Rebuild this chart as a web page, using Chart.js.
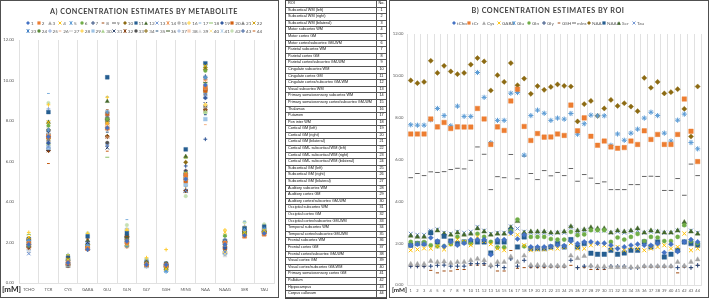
<!DOCTYPE html>
<html>
<head>
<meta charset="utf-8">
<script src="https://cdn.jsdelivr.net/npm/chart.js@4.4.1/dist/chart.umd.min.js"></script>
<style>
  html, body { margin:0; padding:0; background:#fff; }
  body { position:relative; width:709px; height:299px; overflow:hidden; font-family: Lato, "Liberation Sans", sans-serif; }
  .frame { position:absolute; box-sizing:border-box; border:1px solid #505050; }
  canvas { position:absolute; top:0; }
  .title { position:absolute; font-weight:bold; color:#404040; white-space:nowrap; letter-spacing:0.07em; transform:translate(-50%,-50%); font-size:10px; }
  .legend { position:absolute; display:grid; font-size:4.6px; color:#595959; }
  .legend .item { display:flex; align-items:center; white-space:nowrap; height:8px; }
  .legend svg { flex:none; margin-right:1px; }
  .unit { position:absolute; font-weight:bold; color:#262626; white-space:nowrap; }
  #roiTable { position:absolute; left:285px; top:0px; width:102px; box-sizing:border-box; border:1px solid #444;
              display:grid; grid-template-columns:91px 9px; grid-auto-rows:6.6px; font-family:"Liberation Sans", Arial, sans-serif; }
  #roiTable div { box-sizing:border-box; border-bottom:1px solid #555; font-size:3.8px; line-height:5.6px; white-space:nowrap; overflow:hidden; color:#111; }
  #roiTable .n { padding-left:2px; border-right:1px solid #555; }
  #roiTable .c { text-align:center; font-size:3.8px; }
</style>
</head>
<body>
<div class="frame" style="left:0;top:0;width:279px;height:298px;"></div>
<div class="frame" style="left:389px;top:0;width:320px;height:298px;"></div>
<canvas id="chartA" width="279" height="299" style="left:0;"></canvas>
<canvas id="chartB" width="320" height="299" style="left:389px;"></canvas>
<div class="title" id="titleA" style="left:144px;top:11px;">A) CONCENTRATION ESTIMATES BY METABOLITE</div>
<div class="title" id="titleB" style="left:548px;top:10px;">B) CONCENTRATION ESTIMATES BY ROI</div>
<div class="legend" id="legendA" style="left:26px;top:19px;grid-template-columns:repeat(22,10.76px);"></div>
<div class="legend" id="legendB" style="left:452px;top:19px;grid-template-columns:repeat(13,15px);"></div>
<div class="unit" style="left:2px;top:284px;font-size:8px;">[mM]</div>
<div class="unit" style="left:392px;top:286px;font-size:6.3px;">[mM]</div>
<div id="roiTable"></div>
<script>
// ---------------- DATA ----------------
const metabolites = ['tCho','tCr','Cys','GABA','Glu','Gln','Gly','GSH','mIns','NAA','NAAG','Ser','Tau'];
const metaboliteTicks = ['TCHO','TCR','CYS','GABA','GLU','GLN','GLY','GSH','MINS','NAA','NAAG','SER','TAU'];
const roiNumbers = ['1','2','3','4','5','6','7','8','9','10','11','12','13','14','15','16','17','18','19','20','21','22',
                    '23','24','25','26','27','28','29','30','31','32','33','34','35','36','37','38','39','40','41','42','43','44'];
const roiNames = [
  'Subcortical WM (left)','Subcortical WM (right)','Subcortical WM (bilateral)','Motor subcortex WM','Motor cortex GM',
  'Motor cortex/subcortex GM-WM','Parietal subcortex WM','Parietal cortex GM','Parietal cortex/subcortex GM-WM',
  'Cingulate subcortex WM','Cingulate cortex GM','Cingulate cortex/subcortex GM-WM','Visual subcortex WM',
  'Primary somatosensory subcortex WM','Primary somatosensory cortex/subcortex GM-WM','Thalamus','Putamen','Pon inter WM',
  'Cortical GM (left)','Cortical GM (right)','Cortical GM (bilateral)','Cortical GM/- subcortical WM (left)',
  'Cortical GM/- subcortical WM (right)','Cortical GM/- subcortical WM (bilateral)','Subcortical GM (left)',
  'Subcortical GM (right)','Subcortical GM (bilateral)','Auditory subcortex WM','Auditory cortex GM',
  'Auditory cortex/subcortex GM-WM','Occipital subcortex WM','Occipital cortex GM','Occipital cortex/subcortex GM-WM',
  'Temporal subcortex WM','Temporal cortex/subcortex GM-WM','Frontal subcortex WM','Frontal cortex GM',
  'Frontal cortex/subcortex GM-WM','Visual cortex GM','Visual cortex/subcortex GM-WM','Primary somatosensory cortex GM',
  'Pallidum','Hippocampus','Corpus callosum'];

// concentration [mM] per metabolite, ROI 1..44
const tCho = [1.90,1.95,1.95,2.26,2.10,1.85,2.06,1.90,2.00,2.17,2.17,2.17,1.45,2.17,2.17,2.50,2.20,2.40,1.82,1.82,1.82,1.85,1.90,1.88,2.10,1.98,2.06,2.06,2.00,2.00,1.90,1.74,1.82,1.90,1.95,1.90,1.90,1.98,1.55,1.95,1.60,2.06,2.17,2.06];
const tCr  = [7.22,7.22,7.22,7.94,7.56,7.77,7.48,7.56,7.55,7.55,8.44,7.94,6.72,7.56,7.39,8.80,9.36,7.58,6.91,7.24,7.07,7.08,7.22,7.15,8.60,7.37,7.99,7.11,6.68,6.88,6.60,6.54,6.57,6.88,6.72,7.37,6.96,7.20,6.72,6.72,7.20,8.89,7.35,5.90];
const Cys  = [1.00,1.00,1.00,1.14,1.10,1.12,1.05,1.10,1.10,1.18,1.25,1.18,0.94,1.10,1.10,1.35,1.10,1.40,0.95,0.95,0.95,0.92,0.92,0.92,1.40,1.28,1.38,0.92,0.88,0.88,0.85,0.85,0.85,0.85,0.85,0.90,0.90,0.90,0.90,0.90,1.10,0.92,1.10,1.22];
const GABA = [1.66,1.70,1.75,1.74,1.85,1.70,1.95,2.17,2.06,1.90,2.30,2.10,1.95,1.74,1.66,2.45,2.40,1.90,1.66,1.70,1.70,1.74,1.74,1.82,2.00,1.74,1.74,1.90,1.98,1.90,1.74,1.82,1.66,1.82,1.74,1.66,1.74,1.82,1.90,1.74,1.82,2.46,1.66,1.74];
const Glu  = [7.66,7.64,7.64,7.90,8.44,8.10,7.61,8.55,8.06,8.06,10.16,8.97,6.80,7.87,7.87,9.17,9.20,6.21,8.10,8.36,8.21,7.87,7.98,7.93,8.20,7.21,7.71,8.12,8.09,8.09,6.68,7.22,6.92,7.26,7.45,7.98,8.26,8.10,7.26,6.88,7.88,8.17,6.81,6.51];
const Gln  = [2.06,2.00,2.05,1.90,1.85,1.85,1.95,2.30,2.06,1.98,2.45,2.30,2.06,1.80,1.80,2.60,3.13,1.85,2.30,2.30,2.30,2.20,2.17,2.17,2.54,2.38,2.42,2.62,2.62,2.62,2.06,2.27,2.17,2.30,2.44,2.10,2.30,2.27,2.10,2.10,2.30,2.86,2.10,2.00];
const Gly  = [0.90,0.90,0.90,0.90,0.94,0.95,0.90,0.90,0.90,1.02,1.02,1.02,0.90,0.94,0.83,1.25,0.90,1.18,0.90,0.90,0.90,0.90,0.90,0.90,1.18,0.83,0.90,0.90,0.83,0.83,0.90,0.90,0.90,0.83,0.83,0.90,0.90,0.90,0.90,0.90,0.83,0.90,0.83,0.94];
const GSH  = [0.90,0.88,0.88,0.70,0.58,0.67,0.67,0.74,0.74,0.95,0.95,0.95,0.88,0.67,0.67,1.65,0.80,0.83,0.83,0.83,0.83,0.85,0.85,0.85,0.94,0.83,0.83,0.74,0.74,0.74,0.83,0.83,0.83,0.83,0.83,0.85,0.85,0.85,0.85,0.85,0.58,0.85,0.83,0.94];
const mIns = [5.13,5.33,5.23,5.41,5.38,5.42,5.52,5.58,5.55,5.96,6.60,6.25,4.56,5.18,5.13,6.24,5.08,6.16,5.33,5.04,5.47,5.22,5.38,5.23,5.57,4.96,5.28,5.11,4.85,4.93,4.56,4.56,4.56,4.80,4.80,5.19,5.20,5.19,4.52,4.52,5.09,4.29,5.78,5.23];
const NAA  = [9.78,9.65,9.71,10.72,10.14,10.48,10.21,10.08,10.14,10.54,10.85,10.69,9.30,10.03,9.71,10.61,9.55,9.87,9.14,9.51,9.33,9.47,9.59,9.52,9.49,7.82,8.65,8.80,8.09,8.44,8.85,8.56,8.69,8.53,8.31,9.90,9.43,9.71,9.16,9.22,9.36,8.42,7.10,9.49];
const NAAG = [1.90,1.98,1.98,2.50,2.06,2.33,2.10,1.98,2.06,2.06,2.06,2.06,1.53,2.06,2.06,2.62,1.82,2.30,1.74,1.74,1.74,1.82,1.98,1.82,2.17,1.82,1.98,1.52,1.47,1.47,1.66,1.47,1.53,1.66,1.66,2.06,1.82,2.06,1.34,1.47,1.66,2.06,1.98,1.90];
const Ser  = [2.35,2.30,2.30,2.50,2.60,2.45,2.40,2.50,2.40,2.45,2.70,2.55,2.40,2.45,2.45,2.75,3.05,2.50,2.55,2.55,2.55,2.50,2.50,2.55,2.80,2.60,2.65,2.75,2.70,2.70,2.50,2.60,2.55,2.60,2.70,2.50,2.60,2.55,2.50,2.50,2.60,3.00,2.55,2.45];
const Tau  = [2.45,2.40,2.40,2.60,2.66,2.50,2.45,2.55,2.50,2.55,2.78,2.60,2.45,2.50,2.50,2.80,2.70,2.55,2.50,2.50,2.50,2.45,2.50,2.50,2.75,2.55,2.60,2.65,2.60,2.60,2.50,2.55,2.50,2.55,2.60,2.50,2.55,2.55,2.50,2.50,2.60,2.90,2.60,2.50];

const yTicks = [0, 2, 4, 6, 8, 10, 12];

// ---------------- STYLE ----------------
const palette = ['#4472C4','#ED7D31','#A5A5A5','#FFC000','#5B9BD5','#70AD47',
  '#264478','#9E480E','#636363','#8C6A12','#255E91','#43682B',
  '#698ED0','#F1975A','#B7B7B7','#FFCD33','#7CAFDD','#8CC168',
  '#335AA1','#D26012','#848484','#CC9A00','#3C7DC4','#5A8A39',
  '#8FAADC','#F4B183','#C9C9C9','#FFD966','#9DC3E6','#A9D18E',
  '#203864','#843C0C','#525252','#7F6000','#1F4E79','#385723',
  '#B4C7E7','#F8CBAD','#DBDBDB','#FFE699','#BDD7EE','#C5E0B4',
  '#2F5597','#C55A11'];
const markerCycle = ['rectRot','rect','triangle','crossRot','star','circle','cross','dash','line'];
const radiusB = {rectRot:2.6, rect:3.2, triangle:2.8, crossRot:2.8, star:2.6, circle:2.1, cross:2.2, dash:1.6, line:2.3};
const radiusA = {rectRot:2.2, rect:2.7, triangle:2.4, crossRot:2.4, star:2.3, circle:1.8, cross:1.9, dash:1.4, line:2.0};

function markerSVG(style, color, s) {
  const h = s / 2;
  const st = `stroke="${color}" stroke-width="0.9"`;
  let inner = '';
  switch (style) {
    case 'rectRot': inner = `<polygon points="${h},0 ${s},${h} ${h},${s} 0,${h}" fill="${color}"/>`; break;
    case 'rect': inner = `<rect x="0.4" y="0.4" width="${s-0.8}" height="${s-0.8}" fill="${color}"/>`; break;
    case 'triangle': inner = `<polygon points="${h},0.2 ${s-0.1},${s-0.3} 0.1,${s-0.3}" fill="${color}"/>`; break;
    case 'crossRot': inner = `<line x1="0.5" y1="0.5" x2="${s-0.5}" y2="${s-0.5}" ${st}/><line x1="${s-0.5}" y1="0.5" x2="0.5" y2="${s-0.5}" ${st}/>`; break;
    case 'star': inner = `<line x1="0.5" y1="0.5" x2="${s-0.5}" y2="${s-0.5}" ${st}/><line x1="${s-0.5}" y1="0.5" x2="0.5" y2="${s-0.5}" ${st}/><line x1="${h}" y1="0" x2="${h}" y2="${s}" ${st}/>`; break;
    case 'circle': inner = `<circle cx="${h}" cy="${h}" r="${h-0.3}" fill="${color}"/>`; break;
    case 'cross': inner = `<line x1="${h}" y1="0" x2="${h}" y2="${s}" ${st}/><line x1="0" y1="${h}" x2="${s}" y2="${h}" ${st}/>`; break;
    case 'dash': inner = `<line x1="${h-1.3}" y1="${h}" x2="${h+1.3}" y2="${h}" stroke="${color}" stroke-width="1"/>`; break;
    default: inner = `<line x1="0" y1="${h}" x2="${s}" y2="${h}" stroke="${color}" stroke-width="1"/>`;
  }
  return `<svg width="${s}" height="${s}" viewBox="0 0 ${s} ${s}">${inner}</svg>`;
}
function cjsStyle(m) { return m === 'dash' ? 'line' : m; }

// ---------------- TITLES ----------------
function fitTitle(id, target) {
  const el = document.getElementById(id);
  el.style.fontSize = '10px';
  const w = el.getBoundingClientRect().width;
  el.style.fontSize = (10 * target / w) + 'px';
}
fitTitle('titleA', 188);
fitTitle('titleB', 153);

// ---------------- TABLE ----------------
(function buildTable() {
  const t = document.getElementById('roiTable');
  let html = '<div class="n">ROI</div><div class="c">No.</div>';
  roiNames.forEach((n, i) => { html += `<div class="n">${n}</div><div class="c">${roiNumbers[i]}</div>`; });
  t.innerHTML = html;
})();

// ---------------- LEGENDS ----------------
(function buildLegends() {
  const la = document.getElementById('legendA');
  la.innerHTML = roiNumbers.map((n, i) =>
    `<div class="item">${markerSVG(markerCycle[i % 9], palette[i], 4)}<span>${n}</span></div>`).join('');
  const lb = document.getElementById('legendB');
  lb.innerHTML = metabolites.map((n, i) =>
    `<div class="item">${markerSVG(markerCycle[i % 9], palette[i], 4)}<span>${n}</span></div>`).join('');
})();

// ---------------- CHARTS ----------------
const seriesByMetabolite = [tCho, tCr, Cys, GABA, Glu, Gln, Gly, GSH, mIns, NAA, NAAG, Ser, Tau];

function yScale(width, pad) {
  return {
    min: yTicks[0], max: yTicks[yTicks.length - 1],
    afterBuildTicks: (s) => { s.ticks = yTicks.map(v => ({value: v})); },
    ticks: { callback: v => Number(v).toFixed(2), font: {family: 'Lato', size: 4.2}, color: '#595959', padding: pad },
    grid: { display: false, drawTicks: false },
    border: { display: false },
    afterFit: (s) => { s.width = width; }
  };
}
function xScale(height, fontSize, pad) {
  return {
    type: 'category', offset: true,
    ticks: { autoSkip: false, maxRotation: 0, minRotation: 0, font: {family: 'Lato', size: fontSize}, color: '#595959', padding: pad },
    grid: { display: true, offset: true, color: '#D9D9D9', lineWidth: 0.8, drawTicks: false },
    border: { display: true, color: '#D9D9D9', width: 0.8 },
    afterFit: (s) => { s.height = height; }
  };
}
const commonPlugins = { legend: {display: false}, title: {display: false}, tooltip: {enabled: false} };
const lineLike = ['line','dash','cross','crossRot','star'];

// Chart A: one dataset per ROI over the metabolites
const datasetsA = roiNumbers.map((n, r) => {
  const m = markerCycle[r % 9];
  return {
    label: n,
    data: seriesByMetabolite.map(arr => arr[r]),
    showLine: false,
    pointStyle: cjsStyle(m),
    pointRadius: radiusA[m],
    pointBackgroundColor: palette[r],
    pointBorderColor: palette[r],
    pointBorderWidth: lineLike.includes(m) ? 1 : 0.4
  };
});
new Chart(document.getElementById('chartA'), {
  type: 'line',
  data: { labels: metaboliteTicks, datasets: datasetsA },
  options: {
    responsive: false, animation: false, events: [],
    layout: { padding: {left: 0, right: 2, top: 40, bottom: 0} },
    plugins: commonPlugins,
    scales: { x: xScale(16, 4.2, 4), y: yScale(19, 5) }
  }
});

// Chart B: one dataset per metabolite over the ROIs
const datasetsB = metabolites.map((name, k) => {
  const m = markerCycle[k % 9];
  return {
    label: name,
    data: seriesByMetabolite[k],
    showLine: false,
    pointStyle: cjsStyle(m),
    pointRadius: radiusB[m],
    pointBackgroundColor: palette[k],
    pointBorderColor: palette[k],
    pointBorderWidth: lineLike.includes(m) ? 1 : 0.4
  };
});
new Chart(document.getElementById('chartB'), {
  type: 'line',
  data: { labels: roiNumbers, datasets: datasetsB },
  options: {
    responsive: false, animation: false, events: [],
    layout: { padding: {left: 0, right: 8, top: 34, bottom: 0} },
    plugins: commonPlugins,
    scales: { x: xScale(14, 4, 3), y: yScale(18.4, 4) }
  }
});
</script>
</body>
</html>
